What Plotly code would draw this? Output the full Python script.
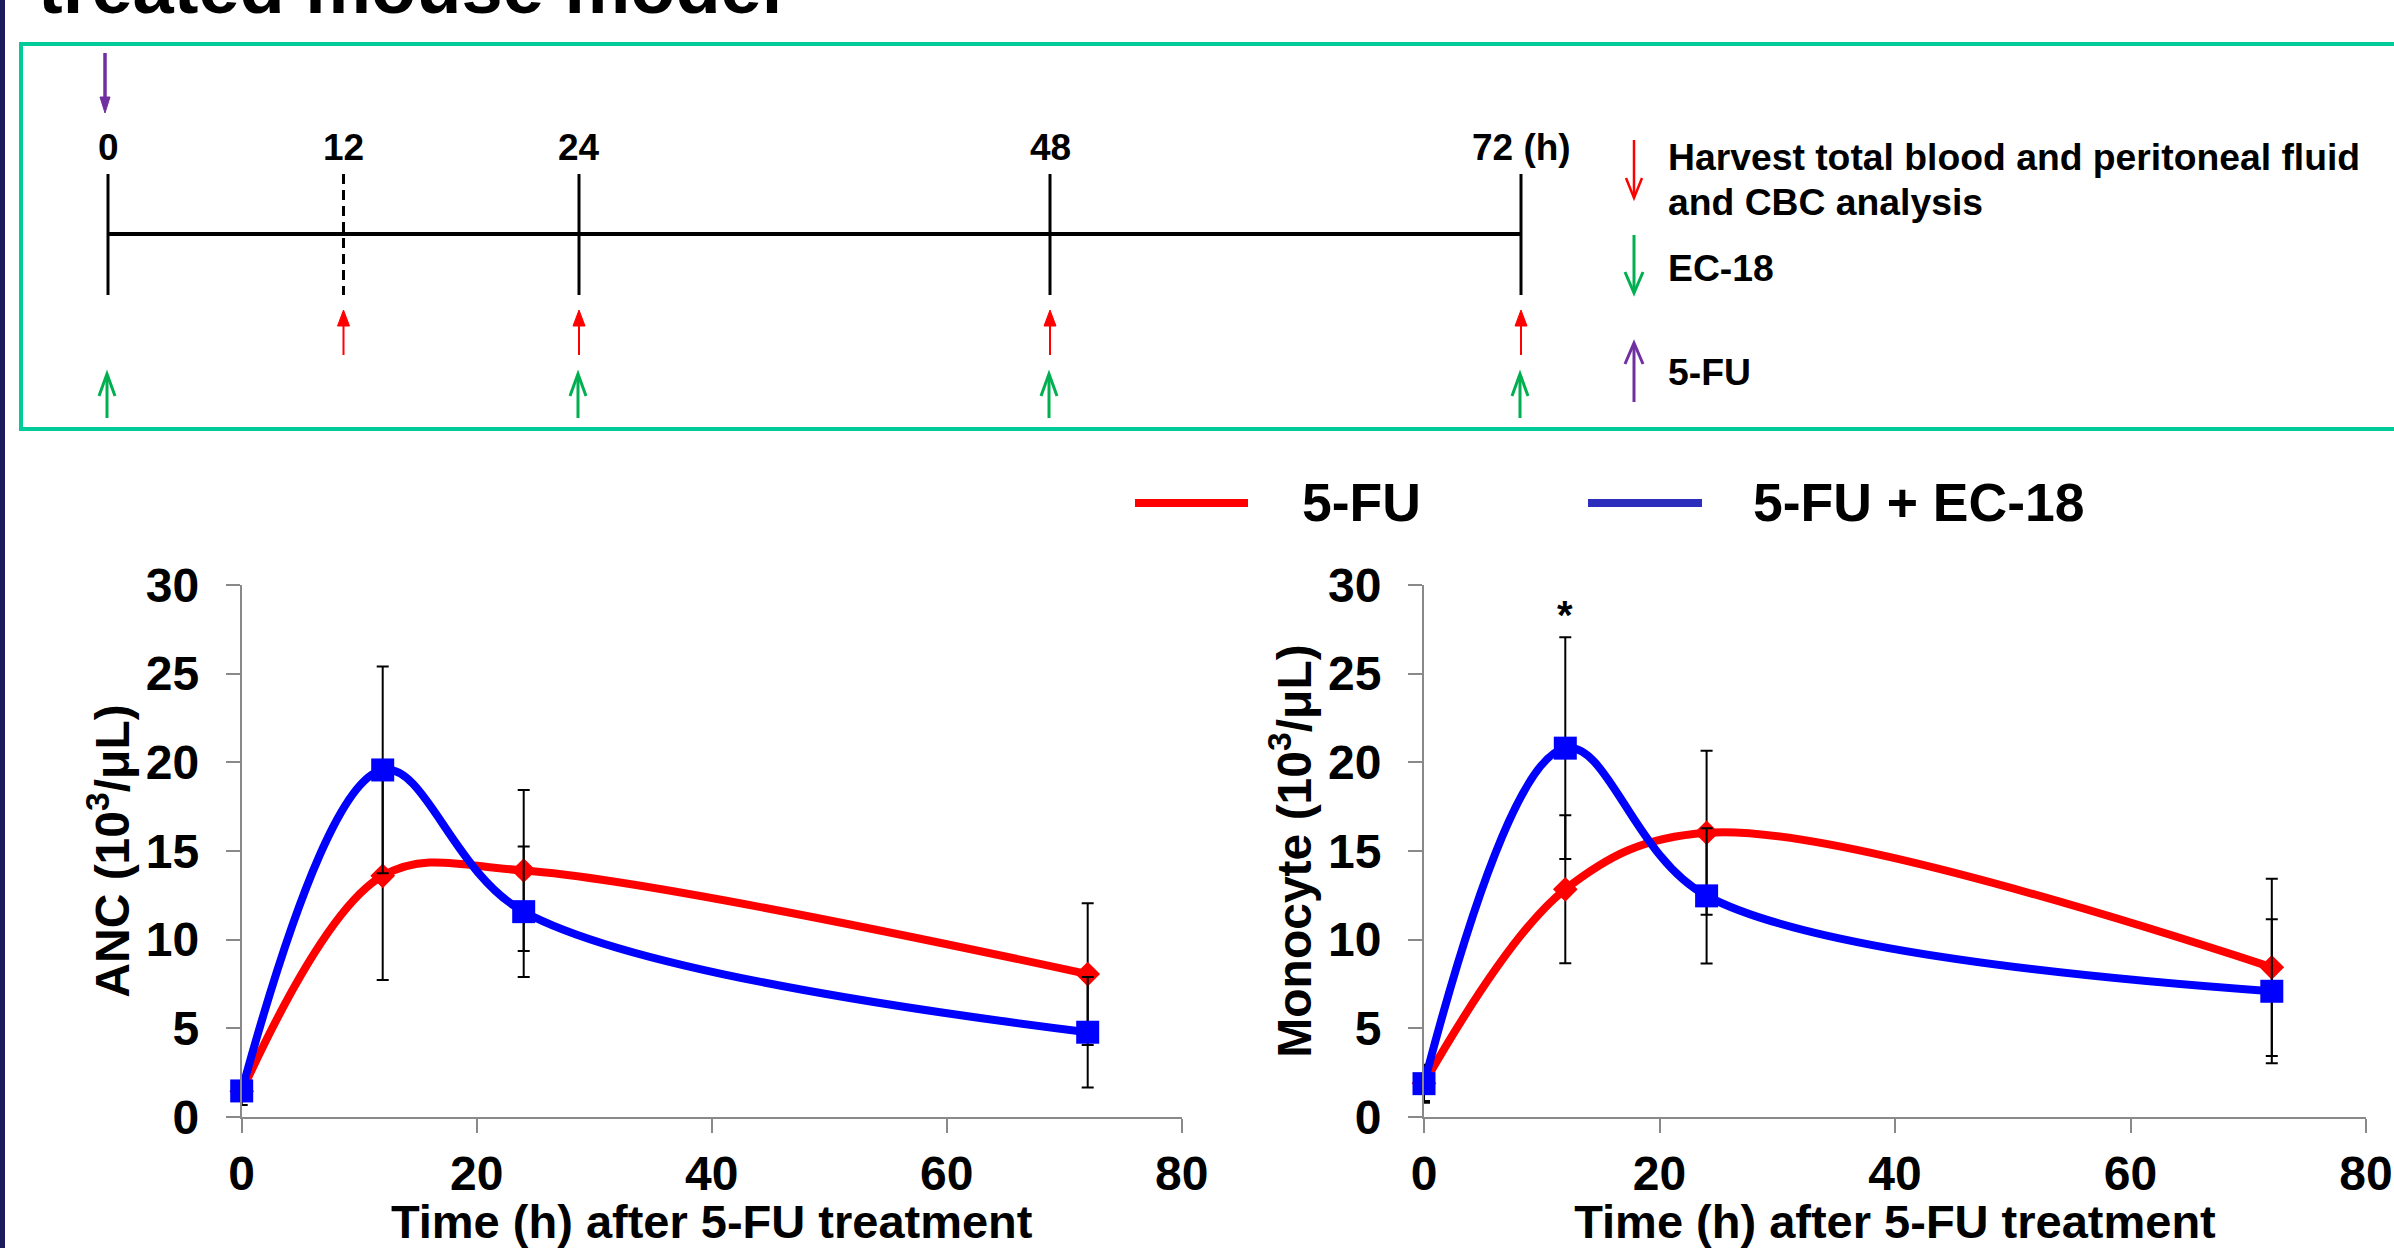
import plotly.graph_objects as go

# ---------------- data ----------------
hours = [0, 12, 24, 72]

anc_5fu = [1.45, 13.6, 13.9, 8.06]
anc_5fu_err = [0.5, 5.87, 4.54, 4.0]
anc_ec18 = [1.47, 19.57, 11.58, 4.78]
anc_ec18_err = [0.8, 5.83, 3.68, 3.12]

mono_5fu = [1.9, 12.84, 16.03, 8.44]
mono_5fu_err = [1.0, 4.17, 4.62, 5.0]
mono_ec18 = [1.88, 20.8, 12.47, 7.09]
mono_ec18_err = [1.07, 6.25, 3.81, 4.06]

series_names = ["5-FU", "5-FU + EC-18"]
x_title = "Time (h) after 5-FU treatment"
y_titles = ["ANC (10<sup>3</sup>/μL)", "Monocyte (10<sup>3</sup>/μL)"]
star_hour, star_value = 12, 28.8

timeline_hours = [0, 12, 24, 48, 72]
timeline_labels = ["0", "12", "24", "48", "72 (h)"]
harvest_hours = [12, 24, 48, 72]
ec18_hours = [0, 24, 48, 72]
fu_hours = [0]
legend_texts = ["Harvest total blood and peritoneal fluid", "and CBC analysis", "EC-18", "5-FU"]
title_text = "treated mouse model"

# ---------------- helpers ----------------
W, H = 2394, 1248
FONT = "Liberation Sans, Arial, Helvetica, sans-serif"
RED, BLUE, GREEN, PURPLE = "#FF0000", "#0000FF", "#00B050", "#7030A0"
AXC = "#898989"


def X(px):
    return px / W


def Y(py):
    return 1 - py / H


TL_X0, TL_X1 = 108, 1521


def hx(h):
    return TL_X0 + (TL_X1 - TL_X0) * h / 72.0


shapes = []
annotations = []


def line(x0, y0, x1, y1, color, width, dash=None):
    d = dict(type="line", xref="paper", yref="paper", x0=X(x0), y0=Y(y0), x1=X(x1), y1=Y(y1),
             line=dict(color=color, width=width))
    if dash:
        d["line"]["dash"] = dash
    shapes.append(d)


def head_filled(x, tip, base, hw, color):
    p = f"M{X(x - hw)},{Y(base)} L{X(x)},{Y(tip)} L{X(x + hw)},{Y(base)} Z"
    shapes.append(dict(type="path", xref="paper", yref="paper", path=p, fillcolor=color,
                       line=dict(color=color, width=1)))


def head_open(x, tip, wing, hw, color, width):
    p = f"M{X(x - hw)},{Y(wing)} L{X(x)},{Y(tip)} L{X(x + hw)},{Y(wing)}"
    shapes.append(dict(type="path", xref="paper", yref="paper", path=p,
                       line=dict(color=color, width=width)))


def text(x, y, s, size, xanchor="center", yanchor="middle", color="black"):
    annotations.append(dict(xref="paper", yref="paper", x=X(x), y=Y(y), text=s, showarrow=False,
                            xanchor=xanchor, yanchor=yanchor,
                            font=dict(family=FONT, size=size, color=color, weight="bold")))


# ---------------- figure ----------------
fig = go.Figure()

charts = [
    ("x", "y", anc_5fu, anc_5fu_err, anc_ec18, anc_ec18_err),
    ("x2", "y2", mono_5fu, mono_5fu_err, mono_ec18, mono_ec18_err),
]
for xa, ya, v1, e1, v2, e2 in charts:
    fig.add_trace(go.Scatter(
        x=hours, y=v1, xaxis=xa, yaxis=ya, name=series_names[0], mode="lines+markers",
        line=dict(color=RED, width=8, shape="spline", smoothing=1),
        marker=dict(symbol="diamond", size=19, color=RED),
        error_y=dict(type="data", array=e1, color="black", thickness=2, width=6),
        cliponaxis=False, showlegend=False))
    fig.add_trace(go.Scatter(
        x=hours, y=v2, xaxis=xa, yaxis=ya, name=series_names[1], mode="lines+markers",
        line=dict(color=BLUE, width=8, shape="spline", smoothing=1),
        marker=dict(symbol="square", size=23, color=BLUE),
        error_y=dict(type="data", array=e2, color="black", thickness=2, width=6),
        cliponaxis=False, showlegend=False))


def xaxis(domain, anchor):
    return dict(domain=domain, anchor=anchor, range=[0, 80], tick0=0, dtick=20,
                showline=True, linecolor=AXC, linewidth=2, ticks="outside", ticklen=14,
                tickwidth=2, tickcolor=AXC, showgrid=False, zeroline=False, automargin=False,
                tickfont=dict(family=FONT, size=48, color="black", weight="bold"),
                ticklabelstandoff=-1,
                title=dict(text=x_title, standoff=16,
                           font=dict(family=FONT, size=47, color="black", weight="bold")))


def yaxis(domain, anchor, title):
    return dict(domain=domain, anchor=anchor, range=[0, 30], tick0=0, dtick=5,
                showline=True, linecolor=AXC, linewidth=2, ticks="outside", ticklen=14,
                tickwidth=2, tickcolor=AXC, showgrid=False, zeroline=False, automargin=False,
                tickfont=dict(family=FONT, size=48, color="black", weight="bold"),
                ticklabelstandoff=17,
                title=dict(text=title, standoff=1,
                           font=dict(family=FONT, size=48, color="black", weight="bold")))


ydom = [Y(1117), Y(585)]
fig.update_layout(
    xaxis=xaxis([X(241.7), X(1181.7)], "y"),
    yaxis=yaxis(ydom, "x", y_titles[0]),
    xaxis2=xaxis([X(1424), X(2366)], "y2"),
    yaxis2=yaxis(ydom, "x2", y_titles[1]),
)

# significance star
annotations.append(dict(xref="x2", yref="y2", x=star_hour, y=star_value, text="*", showarrow=False,
                        yshift=-9, font=dict(family=FONT, size=40, color="black", weight="bold")))

# ---------------- decorations ----------------
# left navy slide border
shapes.append(dict(type="rect", xref="paper", yref="paper", x0=0, x1=X(5), y0=0, y1=1,
                   fillcolor="#1B1B5E", line=dict(width=0)))
# green frame
shapes.append(dict(type="rect", xref="paper", yref="paper", x0=X(21), x1=X(W + 20), y0=Y(429), y1=Y(44),
                   line=dict(color="#00CC99", width=4), fillcolor="rgba(0,0,0,0)"))

# title (cut at top)
text(36, 31, title_text, 74, xanchor="left", yanchor="bottom")

# timeline
line(hx(0), 234, hx(72), 234, "black", 4)
for h, lab in zip(timeline_hours, timeline_labels):
    line(hx(h), 174, hx(h), 295, "black", 3, dash="10px,6px" if h == 12 else None)
    text(hx(h), 147, lab, 37)

for h in harvest_hours:
    line(hx(h), 355, hx(h), 322, RED, 2)
    head_filled(hx(h), 310, 326, 6, RED)
for h in ec18_hours:
    line(hx(h) - 1, 418, hx(h) - 1, 375, GREEN, 3)
    head_open(hx(h) - 1, 374, 396, 8, GREEN, 3)
for h in fu_hours:
    line(hx(h) - 3, 53, hx(h) - 3, 100, PURPLE, 3.5)
    head_filled(hx(h) - 3, 113, 97, 5, PURPLE)

# timeline legend
LX = 1634
line(LX, 140, LX, 197, RED, 2.5)
head_open(LX, 198, 178, 8, RED, 2.5)
line(LX, 235, LX, 292, GREEN, 3)
head_open(LX, 293, 272, 9, GREEN, 3)
line(LX, 402, LX, 344, PURPLE, 3)
head_open(LX, 343, 364, 9, PURPLE, 3)
text(1666, 157, legend_texts[0], 37.3, xanchor="left")
text(1666, 202, legend_texts[1], 37.3, xanchor="left")
text(1666, 268, legend_texts[2], 37.3, xanchor="left")
text(1666, 372, legend_texts[3], 37.3, xanchor="left")

# chart legend
line(1135, 503, 1248, 503, RED, 8)
text(1300, 502, series_names[0], 53.5, xanchor="left")
line(1588, 503, 1702, 503, "#2E2EBC", 8)
text(1751, 502, series_names[1], 53.5, xanchor="left")

fig.update_layout(
    width=W, height=H, margin=dict(l=0, r=0, t=0, b=0, pad=0, autoexpand=False),
    paper_bgcolor="white", plot_bgcolor="white",
    showlegend=False, shapes=shapes, annotations=annotations,
    font=dict(family=FONT, color="black"),
)

fig.write_html("out.html", config={"displayModeBar": False},
               post_script="document.body.style.margin='0px';document.body.style.overflow='hidden';")
